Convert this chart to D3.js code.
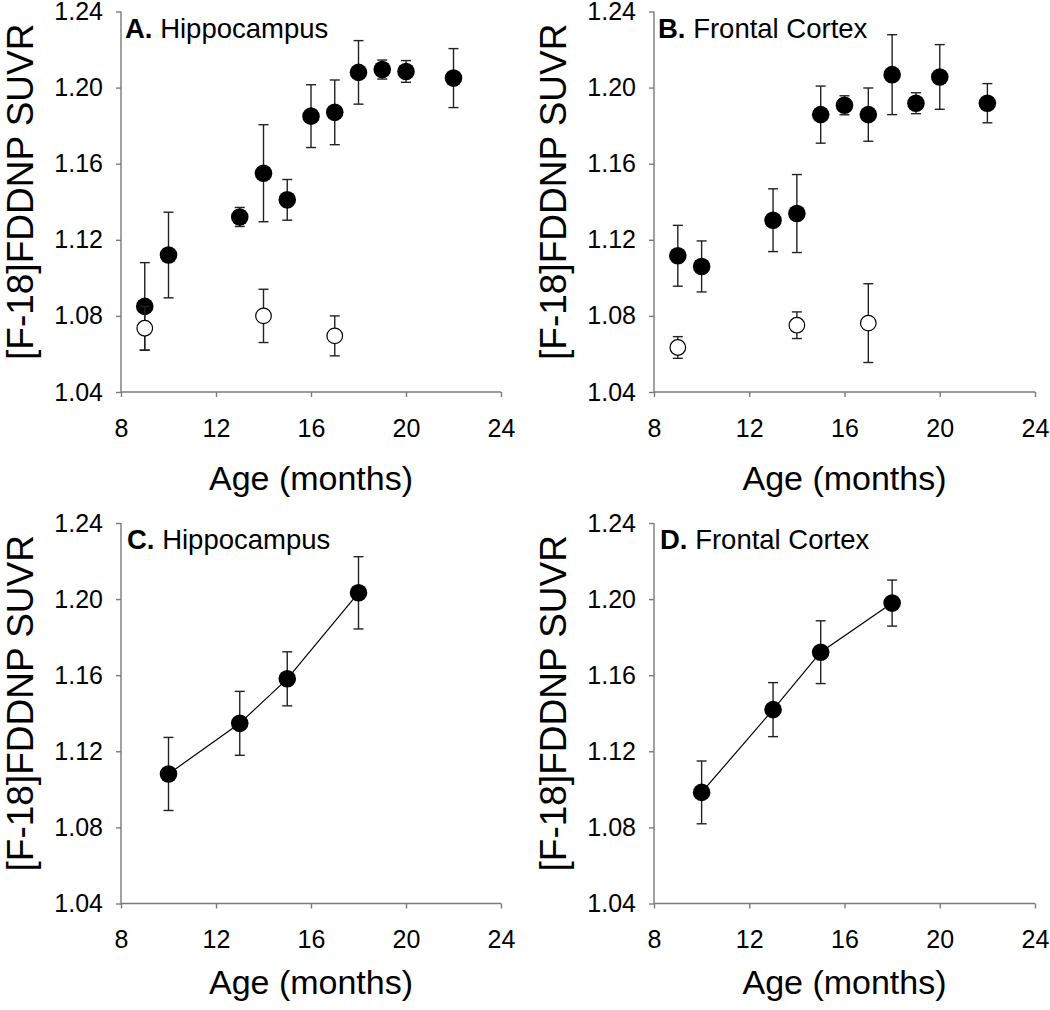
<!DOCTYPE html>
<html><head><meta charset="utf-8">
<script src="https://cdn.jsdelivr.net/npm/d3@7"></script>
<style>
body{margin:0;background:#fff;}
svg{display:block;font-family:"Liberation Sans",Arial,sans-serif;}
</style></head>
<body><svg id="c" width="1050" height="1010"></svg>
<script>
// ---- data ----
const xTicks = [8, 12, 16, 20, 24];
const yTicks = [1.04, 1.08, 1.12, 1.16, 1.20, 1.24];

const ageAll = [9, 10, 13, 14, 15, 16, 17, 18, 19, 20, 22];
const ageCtrl = [9, 14, 17];
const ageLong = [10, 13, 15, 18];

const hipTg = [1.085, 1.112, 1.132, 1.155, 1.141, 1.185, 1.187, 1.208, 1.2095, 1.2085, 1.205];
const hipTgErr = [0.023, 0.0225, 0.005, 0.0255, 0.0107, 0.0165, 0.017, 0.0167, 0.005, 0.0057, 0.0155];
const hipWt = [1.0735, 1.080, 1.0695];
const hipWtErr = [0.0115, 0.014, 0.0105];

const fcTg = [1.1116, 1.106, 1.1303, 1.1338, 1.1858, 1.1907, 1.1858, 1.2068, 1.1918, 1.2056, 1.1918];
const fcTgErr = [0.016, 0.0134, 0.0165, 0.0205, 0.015, 0.005, 0.014, 0.021, 0.0055, 0.017, 0.0103];
const fcWt = [1.0634, 1.0751, 1.0762];
const fcWtErr = [0.0057, 0.007, 0.0207];

const hipLong = [1.1081, 1.1347, 1.1581, 1.2033];
const hipLongErr = [0.0192, 0.0168, 0.0142, 0.019];
const fcLong = [1.0984, 1.1419, 1.1721, 1.1979];
const fcLongErr = [0.0165, 0.0142, 0.0165, 0.0121];

const yLabel = "[F-18]FDDNP SUVR";
const xLabel = "Age (months)";

// ---- layout ----
const panels = [
  {letter:"A.", name:"Hippocampus", x0:121, x1:501, y0:11.5, y1:392, xlabY:490,
   series:[{x:ageAll,y:hipTg,e:hipTgErr,fill:"#000"},{x:ageCtrl,y:hipWt,e:hipWtErr,fill:"#fff"}], line:false},
  {letter:"B.", name:"Frontal Cortex", x0:654, x1:1035, y0:11.5, y1:392, xlabY:490,
   series:[{x:ageAll,y:fcTg,e:fcTgErr,fill:"#000"},{x:ageCtrl,y:fcWt,e:fcWtErr,fill:"#fff"}], line:false},
  {letter:"C.", name:"Hippocampus", x0:121, x1:501, y0:523, y1:903.5, xlabY:994,
   series:[{x:ageLong,y:hipLong,e:hipLongErr,fill:"#000"}], line:true},
  {letter:"D.", name:"Frontal Cortex", x0:654, x1:1035, y0:523, y1:903.5, xlabY:994,
   series:[{x:ageLong,y:fcLong,e:fcLongErr,fill:"#000"}], line:true}
];

const svg = d3.select("#c");
const axisCol = "#7a7a7a";

panels.forEach(p => {
  const x = d3.scaleLinear().domain([8, 24]).range([p.x0, p.x1]);
  const y = d3.scaleLinear().domain([1.04, 1.24]).range([p.y1, p.y0]);
  const g = svg.append("g");

  const ya = g.append("g").attr("transform", `translate(${p.x0},0)`)
    .call(d3.axisLeft(y).tickValues(yTicks).tickFormat(d3.format(".2f")).tickSize(5).tickPadding(13).tickSizeOuter(0));
  const xa = g.append("g").attr("transform", `translate(0,${p.y1})`)
    .call(d3.axisBottom(x).tickValues(xTicks).tickFormat(d3.format("d")).tickSize(5).tickPadding(22).tickSizeOuter(0));
  [ya, xa].forEach(a => {
    a.select(".domain").attr("stroke", axisCol).attr("stroke-width", 1.4);
    a.selectAll(".tick line").attr("stroke", axisCol).attr("stroke-width", 1.4);
    a.selectAll(".tick text").attr("fill", "#000").style("font-size", "25px")
      .style("font-family", '"Liberation Sans",Arial,sans-serif');
  });
  ya.select(".domain").attr("d", `M0,${p.y0}V${p.y1}`);
  xa.select(".domain").attr("d", `M${p.x0},0H${p.x1}`);

  // y label
  g.append("text")
    .attr("transform", `translate(${p.x0 - 88},${(p.y0 + p.y1) / 2 - 10}) rotate(-90)`)
    .attr("text-anchor", "middle").style("font-size", "37px").attr("fill", "#000")
    .text(yLabel);
  // x label
  g.append("text").attr("x", (p.x0 + p.x1) / 2).attr("y", p.xlabY)
    .attr("text-anchor", "middle").style("font-size", "34px").attr("fill", "#000")
    .text(xLabel);
  // title
  const t = g.append("text").attr("x", p.x0 + 4 + (p.letter === "C." || p.letter === "D." ? 2 : 0))
    .attr("y", p.y0 + 26).style("font-size", "27.5px").attr("fill", "#000");
  t.append("tspan").style("font-weight", "bold").text(p.letter);
  t.append("tspan").text(" " + p.name);

  p.series.forEach(s => {
    const pts = s.x.map((v, i) => ({x: v, y: s.y[i], e: s.e[i]}));
    if (p.line) {
      g.append("path").datum(pts)
        .attr("d", d3.line().x(d => x(d.x)).y(d => y(d.y)))
        .attr("fill", "none").attr("stroke", "#000").attr("stroke-width", 1.2);
    }
    const eb = g.append("g").attr("stroke", "#222").attr("stroke-width", 1.4).attr("fill", "none");
    pts.forEach(d => {
      eb.append("line").attr("x1", x(d.x)).attr("x2", x(d.x)).attr("y1", y(d.y - d.e)).attr("y2", y(d.y + d.e));
      [d.y - d.e, d.y + d.e].forEach(v => {
        eb.append("line").attr("x1", x(d.x) - 5).attr("x2", x(d.x) + 5).attr("y1", y(v)).attr("y2", y(v));
      });
    });
    g.append("g").selectAll("circle").data(pts).join("circle")
      .attr("cx", d => x(d.x)).attr("cy", d => y(d.y))
      .attr("r", s.fill === "#000" ? 8.8 : 7.8)
      .attr("fill", s.fill).attr("stroke", "#000").attr("stroke-width", s.fill === "#000" ? 0 : 1.2);
  });
});
</script>
</body></html>
